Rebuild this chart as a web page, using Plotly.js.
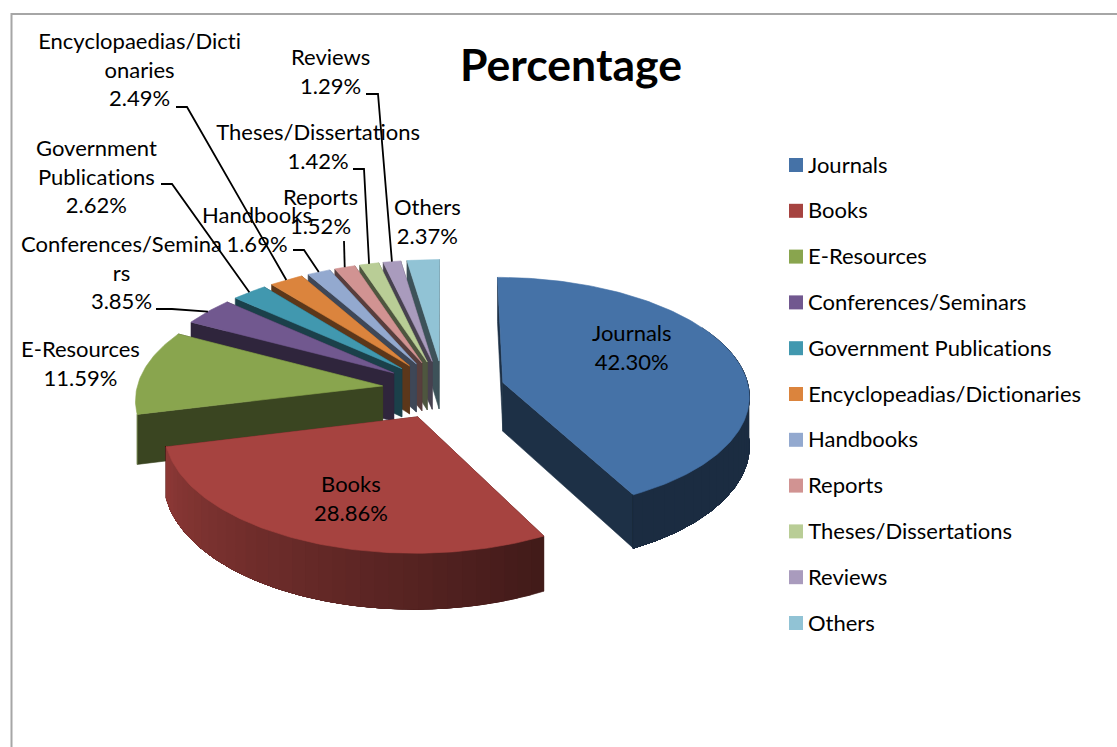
<!DOCTYPE html>
<html>
<head>
<meta charset="utf-8">
<script src="https://cdn.plot.ly/plotly-3.0.1.min.js"></script>
<style>html,body{margin:0;padding:0;background:#fff;overflow:hidden}#chart{width:1117px;height:747px}#chart text{font-variant-ligatures:none !important;font-feature-settings:"liga" 0,"clig" 0 !important}</style>
</head>
<body>
<div id="chart"></div>
<script>
// Share of information sources, in percent
const categories = ['Journals','Books','E-Resources','Conferences/Seminars','Government Publications','Encyclopeadias/Dictionaries','Handbooks','Reports','Theses/Dissertations','Reviews','Others'];
const values = [42.30,28.86,11.59,3.85,2.62,2.49,1.69,1.52,1.42,1.29,2.37];
const sliceLabels = ['Journals','Books','E-Resources','Conferences/Semina<br>rs','Government<br>Publications','Encyclopaedias/Dicti<br>onaries','Handbooks','Reports','Theses/Dissertations','Reviews','Others'];
const colours = ['#4572A7','#A64340','#89A54E','#71588F','#4198AF','#DB843D','#93A9CF','#D19392','#B9CD96','#A99BBD','#91C3D5'];

const FONT = 'Lato, Carlito, Calibri, sans-serif';
const LABEL_SIZE = 22;

// Tilted-disc projection, expressed in page pixels on hidden axes
const CX = 443.5, CY = 389.5, RX = 246, RY = 117, PERSP = 0.1, EXPLODE = 0.25, DEPTH = 49;
function project(gx, gy, drop) {
  const s = 1 / (1 + PERSP * gy);
  return [CX + RX * gx * s, CY - RY * gy * s + (drop ? DEPTH * s : 0)];
}
function rim(deg, off, r, drop) {
  const a = deg * Math.PI / 180;
  return project(off[0] + r * Math.sin(a), off[1] + r * Math.cos(a), drop);
}
function shade(hex, f) {
  const n = parseInt(hex.slice(1), 16);
  return 'rgb(' + [(n >> 16) & 255, (n >> 8) & 255, n & 255].map(c => Math.round(c * f)).join(',') + ')';
}
function poly(pts, color) {
  return {
    type: 'scatter', mode: 'lines', x: pts.map(p => p[0]), y: pts.map(p => p[1]),
    fill: 'toself', fillcolor: color, line: {color: color, width: 0.6},
    hoverinfo: 'skip', showlegend: false
  };
}
// Outer wall is darkest on the right and lightens towards the left
function wallFactor(deg) {
  const t = Math.max(0, Math.min(1, (deg - 152) / 104));
  return 0.39 + t * 0.46;
}

let acc = 0;
const slices = values.map((v, i) => {
  const start = acc / 100 * 360;
  acc += v;
  const end = acc / 100 * 360;
  const mid = (start + end) / 2 * Math.PI / 180;
  return {i, start, end, midDeg: (start + end) / 2, off: [EXPLODE * Math.sin(mid), EXPLODE * Math.cos(mid)]};
});

const traces = [];
function drawSlice(sl) {
  const col = colours[sl.i];
  const apex = project(sl.off[0], sl.off[1], false), apexLow = project(sl.off[0], sl.off[1], true);
  [sl.end, sl.start].forEach(d => {
    traces.push(poly([apex, rim(d, sl.off, 1, false), rim(d, sl.off, 1, true), apexLow, apex], shade(col, 0.42)));
  });
  // Cylinder wall in narrow bands; each band runs on under the next so no seams show
  const from = Math.max(sl.start, 60), to = Math.min(sl.end, 256.3);
  for (let d = from; d < to; d += 3) {
    const pts = [];
    for (let a = d; a < to; a += 1) pts.push(rim(a, sl.off, 1, false));
    pts.push(rim(to, sl.off, 1, false), rim(to, sl.off, 1, true));
    for (let a = to - 1; a > d; a -= 1) pts.push(rim(a, sl.off, 1, true));
    pts.push(rim(d, sl.off, 1, true));
    traces.push(poly(pts, shade(col, wallFactor(d + 1.5))));
  }
  const top = [apex];
  for (let d = sl.start; d < sl.end; d += 1) top.push(rim(d, sl.off, 1, false));
  top.push(rim(sl.end, sl.off, 1, false), apex);
  traces.push(poly(top, col));
}
// Painted from the back of the disc to the front
[10, 9, 8, 7, 6, 5, 4, 3, 2, 1, 0].forEach(i => drawSlice(slices[i]));

// Leader lines run from a label to the rim of its slice
const leaderStarts = {
  3: [[156, 309], [172, 309]],
  4: [[161, 184], [172, 184]],
  5: [[176, 107], [187, 107]],
  6: [[293, 250], [304, 250]],
  7: [[344, 241]],
  8: [[353, 169], [364, 169]],
  9: [[366, 94], [378, 94]]
};
Object.keys(leaderStarts).forEach(k => {
  const sl = slices[+k];
  const pts = leaderStarts[k].concat([rim(sl.midDeg, sl.off, 1, false)]);
  traces.push({
    type: 'scatter', mode: 'lines', x: pts.map(p => p[0]), y: pts.map(p => p[1]),
    line: {color: '#000', width: 1.8}, hoverinfo: 'skip', showlegend: false
  });
});

// Key on the right: swatches with their names beside them
const KEY_X = 796, KEY_TEXT_X = 808, KEY_Y = 165, KEY_STEP = 45.8;
traces.push({
  type: 'scatter', mode: 'markers',
  x: categories.map(() => KEY_X), y: categories.map((c, i) => KEY_Y + i * KEY_STEP),
  marker: {symbol: 'square', size: 14, color: colours},
  hoverinfo: 'skip', showlegend: false, cliponaxis: false
});
const keyLabels = categories.map((c, i) => ({
  x: KEY_TEXT_X, y: KEY_Y + i * KEY_STEP, xref: 'x', yref: 'y', xanchor: 'left', yanchor: 'middle', xshift: -2, yshift: 1,
  text: c, showarrow: false, font: {family: FONT, size: LABEL_SIZE, color: '#000'}
}));

const labelPos = [[632, 348.5], [351, 499.5], [80, 364.5], [121, 273.5], [96, 177.5], [139, 71], [257, 230.5], [320, 212.5], [318, 148], [330, 72.5], [427, 222.5]];
const sliceAnnotations = labelPos.map((p, i) => ({
  x: p[0], y: p[1], xref: 'x', yref: 'y', xanchor: 'center', yanchor: 'middle', yshift: 2,
  text: sliceLabels[i] + '<br>' + values[i].toFixed(2) + '%', showarrow: false, align: 'center',
  font: {family: FONT, size: LABEL_SIZE, color: '#000'}
}));

const layout = {
  width: 1117, height: 747, margin: {l: 0, r: 0, t: 0, b: 0},
  paper_bgcolor: '#fff', plot_bgcolor: '#fff', showlegend: false,
  title: {
    text: '<b>Percentage</b>', x: 571 / 1117, xanchor: 'center', xref: 'paper',
    y: 1 - 65 / 747, yanchor: 'middle', yref: 'container',
    font: {family: FONT, size: 44.5, color: '#000'}
  },
  xaxis: {range: [0, 1117], visible: false, fixedrange: true},
  yaxis: {range: [747, 0], visible: false, fixedrange: true},
  shapes: [{type: 'path', path: 'M 11.5 760 L 11.5 14 L 1130 14', xref: 'x', yref: 'y', line: {color: '#a6a6a6', width: 2}}],
  annotations: sliceAnnotations.concat(keyLabels)
};
Plotly.newPlot('chart', traces, layout, {displayModeBar: false, staticPlot: true});
</script>
</body>
</html>
